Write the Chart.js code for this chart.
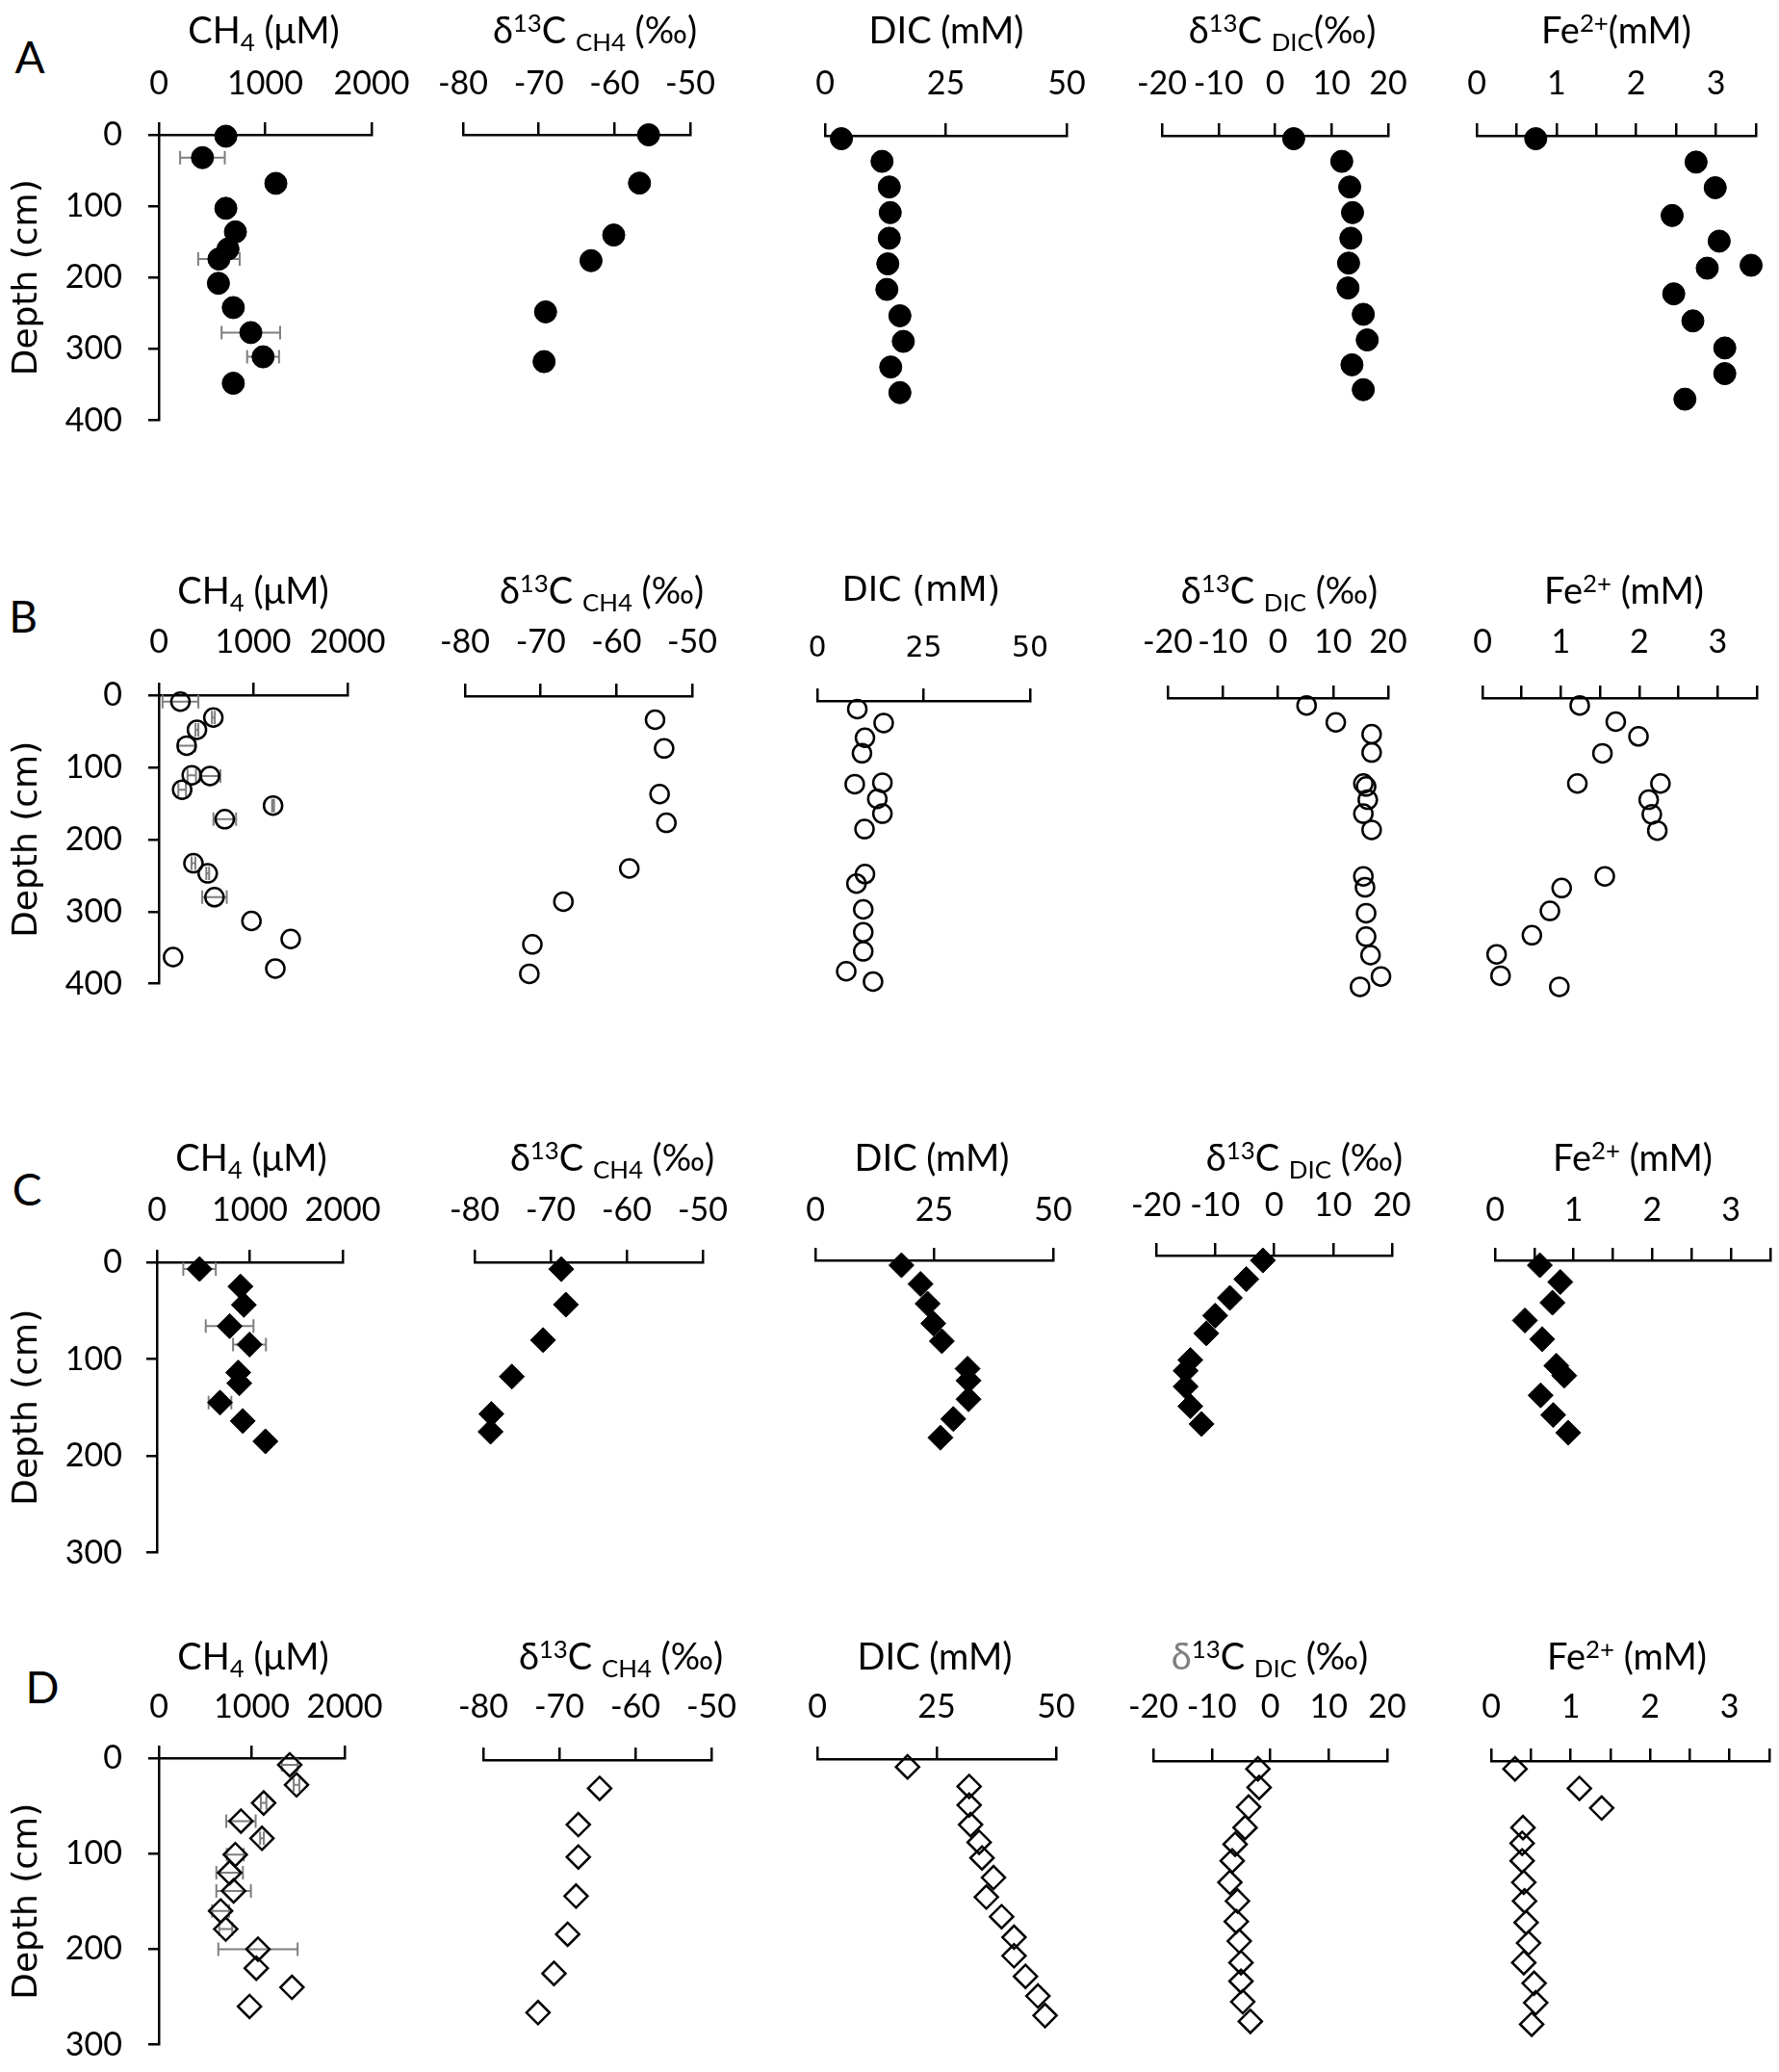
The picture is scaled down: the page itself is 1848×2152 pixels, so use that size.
<!DOCTYPE html>
<html lang="en">
<head>
<meta charset="UTF-8">
<title>Porewater profiles A-D</title>
<script src="https://cdn.jsdelivr.net/npm/chart.js@4"></script>
<style>
    body { margin: 0; background: #fff; }
    #page { position: relative; width: 1848px; height: 2152px; overflow: hidden; background: #fff; }
    #page canvas { position: absolute; }
    .ttl {
        position: absolute; transform: translate(-50%, -50%); white-space: nowrap;
        font-family: Lato, "Open Sans", sans-serif; font-size: 38px; line-height: 1; color: #000;
    }
    .ttl sub { font-size: 0.68em; vertical-align: baseline; position: relative; top: 0.32em; }
    .ttl sup { font-size: 0.68em; vertical-align: baseline; position: relative; top: -0.45em; }
    .ttl.dv { font-family: "DejaVu Sans", sans-serif; font-size: 35px; }
    .letter {
        position: absolute; transform: translate(-50%, -50%);
        font-family: Lato, "Open Sans", sans-serif; font-size: 46px; line-height: 1; color: #000;
    }
</style>
</head>
<body>
<div id="page"></div>
<script>
// ---- data ----
// core A, filled circles
const depthA_ch4 = [2, 32, 68, 103, 136, 160, 174, 208, 242, 277, 311, 348];
const ch4A = [630, 410, 1100, 630, 720, 650, 565, 560, 700, 865, 980, 700];
const ch4ErrA = [0, 210, 0, 0, 0, 0, 195, 0, 0, 275, 150, 0];
const depthA_d13ch4 = [0, 66, 137, 172, 242, 310];
const d13ch4A = [-55.5, -56.7, -60.1, -63.1, -69.1, -69.3];
const depthA_dic = [4, 35, 70, 105, 140, 175, 210, 246, 281, 316, 351];
const dicA = [3.4, 11.8, 13.3, 13.5, 13.3, 13.0, 12.8, 15.5, 16.2, 13.6, 15.5];
const depthA_d13dic = [4, 35, 70, 105, 140, 174, 208, 244, 279, 313, 347];
const d13dicA = [3.3, 11.8, 13.2, 13.7, 13.4, 13.0, 12.9, 15.6, 16.3, 13.6, 15.6];
const depthA_fe = [4, 36, 71, 109, 144, 177, 181, 216, 253, 290, 325, 360];
const feA = [0.74, 2.75, 2.99, 2.45, 3.04, 3.44, 2.89, 2.47, 2.71, 3.11, 3.11, 2.61];

// core B, open circles
const depthB_ch4 = [9, 31, 48, 70, 111, 112, 131, 153, 172, 233, 247, 280, 313, 338, 363, 379];
const ch4B = [229, 578, 404, 295, 349, 542, 247, 1211, 699, 367, 518, 590, 982, 1398, 151, 1235];
const ch4ErrB = [190, 15, 15, 90, 45, 110, 40, 10, 120, 20, 15, 130, 0, 0, 0, 0];
const depthB_d13ch4 = [32, 71, 133, 172, 234, 279, 337, 377];
const d13ch4B = [-54.9, -53.7, -54.3, -53.4, -58.3, -67.0, -71.1, -71.5];
const depthB_dic = [11, 30, 50, 71, 113, 111, 133, 153, 174, 235, 248, 283, 314, 340, 367, 381];
const dicB = [9.4, 15.6, 11.2, 10.5, 8.8, 15.3, 14.1, 15.3, 11.1, 11.2, 9.2, 10.8, 10.8, 10.8, 6.8, 13.1];
const depthB_d13dic = [10, 33, 49, 74, 116, 120, 138, 157, 179, 242, 257, 292, 324, 349, 378, 392];
const d13dicB = [5.2, 10.5, 17.0, 17.0, 15.5, 16.0, 16.3, 15.5, 17.0, 15.5, 15.8, 16.0, 16.0, 16.8, 18.7, 14.9];
const depthB_fe = [10, 32, 52, 75, 116, 116, 138, 158, 180, 242, 258, 289, 322, 348, 377, 392];
const feB = [1.24, 1.70, 1.99, 1.53, 1.21, 2.27, 2.12, 2.16, 2.23, 1.56, 1.01, 0.86, 0.63, 0.18, 0.23, 0.98];

// core C, filled diamonds
const depthC_ch4 = [7, 25, 44, 66, 85, 114, 125, 145, 164, 185];
const ch4C = [459, 899, 936, 783, 997, 875, 887, 679, 924, 1168];
const ch4ErrC = [175, 0, 0, 257, 177, 0, 0, 122, 0, 0];
const depthC_d13ch4 = [7, 43, 79, 116, 154, 172];
const d13ch4C = [-68.6, -68.0, -71.0, -75.1, -77.8, -77.9];
const depthC_dic = [5, 24, 44, 64, 82, 110, 122, 141, 161, 180];
const dicC = [18.1, 22.1, 23.6, 24.8, 26.6, 32.0, 32.2, 32.2, 29.0, 26.3];
const depthC_d13dic = [5, 24, 43, 61, 79, 106, 117, 133, 153, 171];
const d13dicC = [-1.9, -4.7, -7.5, -10.0, -11.5, -14.2, -15.0, -15.0, -14.2, -12.3];
const depthC_fe = [5, 22, 43, 61, 80, 107, 117, 137, 157, 175];
const feC = [0.57, 0.83, 0.73, 0.38, 0.60, 0.78, 0.88, 0.58, 0.74, 0.93];

// core D, open diamonds
const depthD_ch4 = [7, 28, 47, 66, 84, 101, 120, 139, 160, 179, 200, 220, 240, 260];
const ch4D = [1409, 1482, 1128, 884, 1110, 823, 762, 805, 665, 720, 1067, 1049, 1433, 976];
const ch4ErrD = [85, 30, 30, 158, 20, 91, 143, 186, 91, 70, 427, 0, 0, 0];
const depthD_d13ch4 = [29, 66, 99, 139, 178, 218, 258];
const d13ch4D = [-64.7, -67.5, -67.5, -67.8, -68.9, -70.7, -72.8];
const depthD_dic = [8, 28, 47, 67, 85, 101, 121, 141, 161, 182, 201, 222, 242, 262];
const dicD = [18.9, 31.8, 31.8, 32.1, 33.9, 34.5, 36.9, 35.4, 38.6, 41.2, 41.2, 43.6, 46.2, 47.7];
const depthD_d13dic = [8, 27, 47, 68, 85, 102, 124, 143, 164, 184, 206, 225, 246, 266];
const d13dicD = [-2.1, -1.9, -3.7, -4.3, -6.0, -6.5, -6.9, -5.6, -5.8, -5.3, -5.0, -5.0, -4.7, -3.4];
const depthD_fe = [8, 28, 48, 68, 84, 102, 124, 143, 165, 186, 206, 227, 247, 269];
const feD = [0.30, 1.11, 1.39, 0.40, 0.39, 0.39, 0.41, 0.42, 0.44, 0.47, 0.41, 0.54, 0.56, 0.51];

// axis ranges / tick steps
const ch4Axis = { min: 0, max: 2000, step: 1000 };
const d13ch4Axis = { min: -80, max: -50, step: 10 };
const dicAxis = { min: 0, max: 50, step: 25 };
const d13dicAxis = { min: -20, max: 20, step: 10 };
const feAxis = { min: 0, max: 3.5, step: 0.5 };
const depthTicksAB = 400;
const depthTicksCD = 300;

const titleCH4 = 'CH<sub>4</sub> (μM)';
const titleD13CH4 = 'δ<sup>13</sup>C <sub>CH4</sub> (‰)';
const titleDIC = 'DIC (mM)';
const titleD13DIC = 'δ<sup>13</sup>C <sub>DIC</sub> (‰)';
const titleFe = 'Fe<sup>2+</sup> (mM)';

// ---- layout (page pixels of each plot area) ----
const rows = [
    { letter: 'A', lx: 31, ly: 59, titleY: 30, labelY: 87, depthMax: depthTicksAB, span: 304,
      marker: { style: 'circle', r: 11.5, fill: '#000', bw: 1 },
      panels: [
        { axis: ch4Axis, x: ch4A, d: depthA_ch4, err: ch4ErrA, left: 165, right: 386, top: 140, title: titleCH4, tx: 274, yAxis: true },
        { axis: d13ch4Axis, x: d13ch4A, d: depthA_d13ch4, left: 481, right: 717, top: 140, title: titleD13CH4, tx: 618 },
        { axis: dicAxis, x: dicA, d: depthA_dic, left: 857, right: 1108, top: 141, title: titleDIC, tx: 983 },
        { axis: d13dicAxis, x: d13dicA, d: depthA_d13dic, left: 1207, right: 1442, top: 141, title: 'δ<sup>13</sup>C <sub>DIC</sub>(‰)', tx: 1332 },
        { axis: feAxis, x: feA, d: depthA_fe, left: 1534, right: 1824, top: 141, title: 'Fe<sup>2+</sup>(mM)', tx: 1679 }
      ] },
    { letter: 'B', lx: 24, ly: 640, titleY: 612, labelY: 667, depthMax: depthTicksAB, span: 306,
      marker: { style: 'circle', r: 9.5, fill: 'rgba(0,0,0,0)', bw: 2.5 },
      panels: [
        { axis: ch4Axis, x: ch4B, d: depthB_ch4, err: ch4ErrB, left: 165, right: 361, top: 722, title: titleCH4, tx: 263, yAxis: true },
        { axis: d13ch4Axis, x: d13ch4B, d: depthB_d13ch4, left: 483, right: 719, top: 723, title: titleD13CH4, tx: 625 },
        { axis: dicAxis, x: dicB, d: depthB_dic, left: 849, right: 1070, top: 728, title: titleDIC, tx: 957, labelY: 674, dejavu: true },
        { axis: d13dicAxis, x: d13dicB, d: depthB_d13dic, left: 1213, right: 1442, top: 725, title: titleD13DIC, tx: 1329 },
        { axis: feAxis, x: feB, d: depthB_fe, left: 1540, right: 1825, top: 725, title: titleFe, tx: 1687 }
      ] },
    { letter: 'C', lx: 28, ly: 1235, titleY: 1201, labelY: 1257, depthMax: depthTicksCD, span: 307,
      marker: { style: 'rectRot', r: 13, fill: '#000', bw: 1 },
      panels: [
        { axis: ch4Axis, x: ch4C, d: depthC_ch4, err: ch4ErrC, left: 163, right: 356, top: 1311, title: titleCH4, tx: 261, yAxis: true },
        { axis: d13ch4Axis, x: d13ch4C, d: depthC_d13ch4, left: 493, right: 730, top: 1311, title: titleD13CH4, tx: 636 },
        { axis: dicAxis, x: dicC, d: depthC_dic, left: 847, right: 1094, top: 1309, title: titleDIC, tx: 968 },
        { axis: d13dicAxis, x: d13dicC, d: depthC_d13dic, left: 1201, right: 1446, top: 1304, title: titleD13DIC, tx: 1355, labelY: 1252 },
        { axis: feAxis, x: feC, d: depthC_fe, left: 1553, right: 1839, top: 1309, title: titleFe, tx: 1696 }
      ] },
    { letter: 'D', lx: 44, ly: 1752, titleY: 1719, labelY: 1773, depthMax: depthTicksCD, span: 305,
      marker: { style: 'rectRot', r: 12, fill: 'rgba(0,0,0,0)', bw: 2.5 },
      panels: [
        { axis: ch4Axis, x: ch4D, d: depthD_ch4, err: ch4ErrD, left: 165, right: 358, top: 1826, title: titleCH4, tx: 263, yAxis: true },
        { axis: d13ch4Axis, x: d13ch4D, d: depthD_d13ch4, left: 502, right: 739, top: 1828, title: titleD13CH4, tx: 645 },
        { axis: dicAxis, x: dicD, d: depthD_dic, left: 849, right: 1097, top: 1827, title: titleDIC, tx: 971 },
        { axis: d13dicAxis, x: d13dicD, d: depthD_d13dic, left: 1198, right: 1441, top: 1829, title: '<span style="color:#7f7f7f">δ</span><sup>13</sup>C <sub>DIC</sub> (‰)', tx: 1319 },
        { axis: feAxis, x: feD, d: depthD_fe, left: 1549, right: 1838, top: 1829, title: titleFe, tx: 1690 }
      ] }
];

Chart.defaults.font.family = 'Lato, "Open Sans", sans-serif';
Chart.defaults.color = '#000';

// gray horizontal error bars, drawn under the markers
const errorBars = {
    id: 'errorBars',
    beforeDatasetsDraw(chart) {
        const ds = chart.data.datasets[0];
        if (!ds.errors) return;
        const { ctx, scales: { x, y } } = chart;
        ctx.save();
        ctx.strokeStyle = '#7f7f7f';
        ctx.lineWidth = 2;
        ds.data.forEach((p, i) => {
            const e = ds.errors[i];
            if (!e) return;
            const x0 = x.getPixelForValue(p.x - e);
            const x1 = x.getPixelForValue(p.x + e);
            const py = y.getPixelForValue(p.y);
            ctx.beginPath();
            ctx.moveTo(x0, py); ctx.lineTo(x1, py);
            ctx.moveTo(x0, py - 7); ctx.lineTo(x0, py + 7);
            ctx.moveTo(x1, py - 7); ctx.lineTo(x1, py + 7);
            ctx.stroke();
        });
        ctx.restore();
    }
};

const page = document.getElementById('page');

function addText(cls, html, x, y) {
    const el = document.createElement('div');
    el.className = cls;
    el.innerHTML = html;
    el.style.left = x + 'px';
    el.style.top = y + 'px';
    page.appendChild(el);
}

function drawPanel(row, p) {
    const first = !!p.yAxis;
    const padL = first ? p.left : 60, padT = 110, padR = 60, padB = 40;
    const plotW = p.right - p.left, plotH = row.span;
    const w = plotW + padL + padR, h = plotH + padT + padB;

    const cv = document.createElement('canvas');
    cv.width = w; cv.height = h;
    page.appendChild(cv);

    const tickSize = p.dejavu ? 30 : 34;
    const tickFont = p.dejavu ? { family: '"DejaVu Sans", sans-serif', size: tickSize } : { size: tickSize };
    const labelY = p.labelY || row.labelY;
    const tickPad = p.top - 13 - labelY - tickSize * 0.6;
    const a = p.axis;

    const chart = new Chart(cv, {
        type: 'scatter',
        data: {
            datasets: [{
                data: p.x.map((v, i) => ({ x: v, y: p.d[i] })),
                errors: p.err || null,
                pointStyle: row.marker.style,
                pointRadius: row.marker.r,
                backgroundColor: row.marker.fill,
                borderColor: '#000',
                borderWidth: row.marker.bw,
                clip: false
            }]
        },
        options: {
            responsive: false,
            animation: false,
            events: [],
            layout: { padding: { left: 0, top: 0, right: padR, bottom: padB } },
            plugins: { legend: { display: false }, tooltip: { enabled: false } },
            scales: {
                x: {
                    type: 'linear', position: 'top', min: a.min, max: a.max,
                    afterFit: s => { s.height = padT; },
                    ticks: {
                        stepSize: a.step, autoSkip: false, maxRotation: 0, minRotation: 0,
                        padding: tickPad, font: tickFont,
                        callback: v => Number.isInteger(v) ? String(v) : ''
                    },
                    grid: { drawOnChartArea: false, drawTicks: true, tickLength: 13, color: '#000', lineWidth: 2.5 },
                    border: { display: true, color: '#000', width: 2.5 }
                },
                y: {
                    type: 'linear', reverse: true, min: 0, max: row.depthMax, display: first,
                    afterFit: s => { s.width = padL; },
                    ticks: { stepSize: 100, autoSkip: false, padding: p.left - 11 - 127, font: { size: 34 }, callback: v => String(v) },
                    grid: { drawOnChartArea: false, drawTicks: true, tickLength: 11, color: '#000', lineWidth: 2.5 },
                    border: { display: true, color: '#000', width: 2.5 },
                    title: {
                        display: true, text: 'Depth (cm)', color: '#000',
                        font: { family: '"DejaVu Sans", sans-serif', size: 36 },
                        padding: { top: 7, bottom: 0 }
                    }
                }
            }
        },
        plugins: [errorBars]
    });

    // make the plot area exactly the measured size, then place the canvas on it
    let ca = chart.chartArea;
    const dw = plotW - (ca.right - ca.left), dh = plotH - (ca.bottom - ca.top);
    if (Math.abs(dw) > 0.5 || Math.abs(dh) > 0.5) {
        chart.resize(w + dw, h + dh);
        ca = chart.chartArea;
    }
    cv.style.left = (p.left - ca.left) + 'px';
    cv.style.top = (p.top - ca.top) + 'px';

    addText(p.dejavu ? 'ttl dv' : 'ttl', p.title, p.tx, row.titleY);
}

rows.forEach(row => {
    addText('letter', row.letter, row.lx, row.ly);
    row.panels.forEach(p => drawPanel(row, p));
});
</script>
</body>
</html>
